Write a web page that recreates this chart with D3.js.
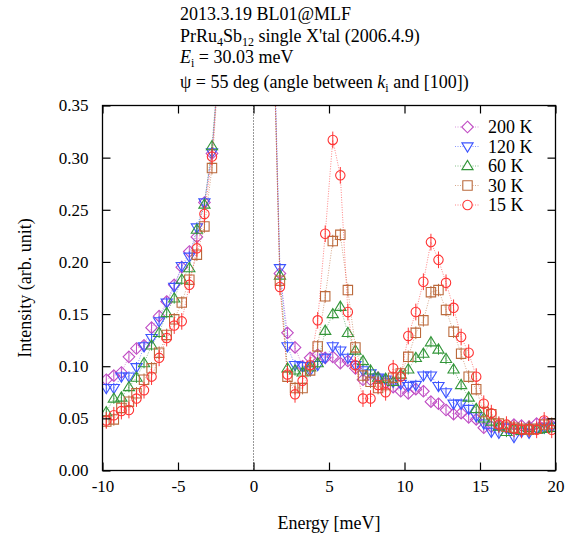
<html lang="en">
<head>
<meta charset="utf-8">
<script src="https://d3js.org/d3.v7.min.js"></script>
<style>
  body { margin: 0; background: #fff; }
  text { font-family: "Liberation Serif", "Times New Roman", serif; fill: #000; }
</style>
</head>
<body>
<svg id="chart" width="572" height="535"></svg>
<script>
// energy transfer points [meV]; the ones next to the elastic line are off the top of the plot
var energy = [-9.75, -9.25, -8.75, -8.25, -7.75, -7.25, -6.75, -6.25, -5.75, -5.25, -4.75, -4.25, -3.75, -3.25, -2.75, -2.25,
              1.25, 1.75, 2.25, 2.75, 3.25, 3.75, 4.25, 4.75, 5.25, 5.75, 6.25, 6.75, 7.25, 7.75, 8.25, 8.75, 9.25, 9.75,
              10.25, 10.75, 11.25, 11.75, 12.25, 12.75, 13.25, 13.75, 14.25, 14.75, 15.25, 15.75, 16.25, 16.75, 17.25, 17.75,
              18.25, 18.75, 19.25, 19.75];

var temps = ["200 K", "120 K", "60 K", "30 K", "15 K"];

var int200 = [0.087, 0.091, 0.094, 0.109, 0.117, 0.120, 0.137, 0.148, 0.162, 0.178, 0.195, 0.210, 0.224, 0.257, 0.304, 0.40,
              0.47, 0.189, 0.132, 0.118, 0.100, 0.108, 0.111, 0.108, 0.109, 0.103, 0.105, 0.098, 0.087, 0.087, 0.089, 0.084,
              0.080, 0.076, 0.074, 0.078, 0.076, 0.066, 0.064, 0.058, 0.054, 0.055, 0.051, 0.049, 0.041, 0.042, 0.043, 0.041,
              0.044, 0.043, 0.042, 0.045, 0.046, 0.043];
var int120 = [0.079, 0.079, 0.090, 0.090, 0.099, 0.119, 0.127, 0.143, 0.161, 0.176, 0.196, 0.205, 0.233, 0.257, 0.305, 0.40,
              0.48, 0.194, 0.119, 0.101, 0.100, 0.096, 0.101, 0.108, 0.119, 0.115, 0.108, 0.101, 0.096, 0.093, 0.089, 0.087,
              0.085, 0.083, 0.081, 0.082, 0.091, 0.091, 0.081, 0.075, 0.064, 0.064, 0.059, 0.052, 0.045, 0.037, 0.036, 0.041,
              0.032, 0.037, 0.036, 0.040, 0.041, 0.042];
var int60  = [0.056, 0.069, 0.070, 0.080, 0.089, 0.103, 0.120, 0.132, 0.151, 0.165, 0.183, 0.194, 0.231, 0.255, 0.311, 0.40,
              0.46, 0.187, 0.098, 0.096, 0.094, 0.099, 0.103, 0.134, 0.150, 0.157, 0.132, 0.115, 0.105, 0.096, 0.089, 0.088,
              0.085, 0.092, 0.097, 0.108, 0.112, 0.123, 0.116, 0.107, 0.097, 0.082, 0.070, 0.059, 0.050, 0.047, 0.042, 0.037,
              0.040, 0.038, 0.041, 0.039, 0.040, 0.041];
var int30  = [0.047, 0.049, 0.060, 0.066, 0.074, 0.087, 0.098, 0.113, 0.130, 0.145, 0.161, 0.183, 0.207, 0.234, 0.290, 0.40,
              0.46, 0.182, 0.090, 0.079, 0.079, 0.096, 0.119, 0.167, 0.220, 0.226, 0.173, 0.118, 0.091, 0.085, 0.079, 0.082,
              0.089, 0.093, 0.109, 0.132, 0.144, 0.171, 0.173, 0.154, 0.133, 0.112, 0.090, 0.078, 0.056, 0.054, 0.045, 0.042,
              0.041, 0.040, 0.039, 0.040, 0.044, 0.045];
var int15  = [0.048, 0.053, 0.057, 0.058, 0.069, 0.077, 0.090, 0.108, 0.127, 0.139, 0.143, 0.178, 0.213, 0.246, 0.301, 0.40,
              0.47, 0.176, 0.092, 0.073, 0.086, 0.101, 0.144, 0.227, 0.317, 0.283, 0.152, 0.101, 0.069, 0.069, 0.082, 0.075,
              0.098, 0.090, 0.129, 0.152, 0.181, 0.219, 0.202, 0.180, 0.156, 0.128, 0.113, 0.090, 0.064, 0.055, 0.044, 0.044,
              0.040, 0.039, 0.040, 0.039, 0.048, 0.039];

// size of the error bars (half length) for each temperature
var errors = [0.005, 0.005, 0.005, 0.006, 0.008];

var xTicks = [-10, -5, 0, 5, 10, 15, 20];
var yTicks = [0, 0.05, 0.10, 0.15, 0.20, 0.25, 0.30, 0.35];

var allSeries = [int200, int120, int60, int30, int15];
var colors = ["#c04cc4", "#3c54ff", "#33963a", "#bb6a3c", "#ff3333"];
var shapes = ["diamond", "down", "up", "square", "circle"];

// plot area (window.top is taken, so these get a prefix)
var plotLeft = 102.5, plotRight = 555.5, plotTop = 105.5, plotBottom = 470.5;
var xScale = d3.scaleLinear().domain([-10, 20]).range([plotLeft, plotRight]);
var yScale = d3.scaleLinear().domain([0, 0.35]).range([plotBottom, plotTop]);

var svg = d3.select("#chart");

// marker outlines
function markerPath(shape) {
    if (shape == "diamond") return "M0,-5.8L5.8,0L0,5.8L-5.8,0Z";
    if (shape == "down") return "M-5.6,-3.6L5.6,-3.6L0,5.6Z";
    if (shape == "up") return "M-5.6,3.6L5.6,3.6L0,-5.6Z";
    if (shape == "square") return "M-4.7,-4.7L4.7,-4.7L4.7,4.7L-4.7,4.7Z";
    return d3.arc()({innerRadius: 0, outerRadius: 4.7, startAngle: 0, endAngle: 2 * Math.PI});
}

svg.append("clipPath")
   .attr("id", "plotClip")
   .append("rect")
   .attr("x", plotLeft)
   .attr("y", plotTop)
   .attr("width", plotRight - plotLeft)
   .attr("height", plotBottom - plotTop);

// dotted line at zero energy
svg.append("line")
   .attr("x1", xScale(0)).attr("x2", xScale(0))
   .attr("y1", plotTop).attr("y2", plotBottom)
   .attr("stroke", "#333")
   .attr("stroke-width", 1)
   .attr("stroke-dasharray", "1,2");

var plot = svg.append("g").attr("clip-path", "url(#plotClip)");

// one group per temperature, highest temperature drawn first
allSeries.forEach(function(vals, s) {
    var pts = energy.map(function(e, i) { return {x: e, y: vals[i]}; });
    var g = plot.append("g");

    g.append("path")
     .datum(pts)
     .attr("fill", "none")
     .attr("stroke", colors[s])
     .attr("stroke-opacity", 0.6)
     .attr("stroke-width", 1)
     .attr("stroke-dasharray", "1,1.5")
     .attr("d", d3.line()
                  .x(function(d) { return xScale(d.x); })
                  .y(function(d) { return yScale(d.y); }));

    var visible = pts.filter(function(d) { return d.y < 0.35; });

    g.selectAll(".err")
     .data(visible)
     .enter()
     .append("line")
     .attr("x1", function(d) { return xScale(d.x); })
     .attr("x2", function(d) { return xScale(d.x); })
     .attr("y1", function(d) { return yScale(d.y - errors[s]); })
     .attr("y2", function(d) { return yScale(d.y + errors[s]); })
     .attr("stroke", colors[s])
     .attr("stroke-width", 1);

    g.selectAll(".mark")
     .data(visible)
     .enter()
     .append("path")
     .attr("transform", function(d) { return "translate(" + xScale(d.x) + "," + yScale(d.y) + ")"; })
     .attr("d", markerPath(shapes[s]))
     .attr("fill", "none")
     .attr("stroke", colors[s])
     .attr("stroke-width", 1.1);
});

// frame with inward ticks on all sides
svg.append("rect")
   .attr("x", plotLeft).attr("y", plotTop)
   .attr("width", plotRight - plotLeft).attr("height", plotBottom - plotTop)
   .attr("fill", "none")
   .attr("stroke", "#000")
   .attr("stroke-width", 1.3);

svg.append("g")
   .attr("transform", "translate(0," + plotBottom + ")")
   .call(d3.axisBottom(xScale).tickValues(xTicks).tickSize(-8).tickPadding(9)
           .tickFormat(function(d) { return String(d); }))
   .call(function(g) { g.select(".domain").remove(); });
svg.append("g")
   .attr("transform", "translate(0," + plotTop + ")")
   .call(d3.axisTop(xScale).tickValues(xTicks).tickSize(-8).tickFormat(""))
   .call(function(g) { g.select(".domain").remove(); });
svg.append("g")
   .attr("transform", "translate(" + plotLeft + ",0)")
   .call(d3.axisLeft(yScale).tickValues(yTicks).tickSize(-8).tickPadding(14).tickFormat(d3.format(".2f")))
   .call(function(g) { g.select(".domain").remove(); });
svg.append("g")
   .attr("transform", "translate(" + plotRight + ",0)")
   .call(d3.axisRight(yScale).tickValues(yTicks).tickSize(-8).tickFormat(""))
   .call(function(g) { g.select(".domain").remove(); });

svg.selectAll(".tick line").attr("stroke", "#000").attr("stroke-width", 1.2);
svg.selectAll(".tick text")
   .attr("font-family", "Liberation Serif, serif")
   .attr("font-size", "17px")
   .attr("fill", "#000");

// axis labels
svg.append("text")
   .attr("text-anchor", "middle")
   .attr("x", (plotLeft + plotRight) / 2)
   .attr("y", 529)
   .attr("font-size", "18px")
   .text("Energy [meV]");
svg.append("text")
   .attr("text-anchor", "middle")
   .attr("transform", "translate(31," + ((plotTop + plotBottom) / 2) + ") rotate(-90)")
   .attr("font-size", "18px")
   .text("Intensity (arb. unit)");

// header lines above the plot
var header = svg.append("g").attr("font-size", "18px");
header.append("text").attr("x", 180).attr("y", 20).text("2013.3.19 BL01@MLF");

var l2 = header.append("text").attr("x", 180).attr("y", 42);
l2.append("tspan").text("PrRu");
l2.append("tspan").attr("font-size", "12px").attr("dy", 4).text("4");
l2.append("tspan").attr("dy", -4).text("Sb");
l2.append("tspan").attr("font-size", "12px").attr("dy", 4).text("12");
l2.append("tspan").attr("dy", -4).text(" single X'tal (2006.4.9)");

var l3 = header.append("text").attr("x", 180).attr("y", 63);
l3.append("tspan").attr("font-style", "italic").text("E");
l3.append("tspan").attr("font-size", "12px").attr("dy", 4).text("i");
l3.append("tspan").attr("dy", -4).text(" = 30.03 meV");

var l4 = header.append("text").attr("x", 180).attr("y", 88);
l4.append("tspan").text("\u03c8 = 55 deg (angle between ");
l4.append("tspan").attr("font-style", "italic").text("k");
l4.append("tspan").attr("font-size", "12px").attr("dy", 4).text("i");
l4.append("tspan").attr("dy", -4).text(" and [100])");

// legend
var legend = svg.append("g");
temps.forEach(function(t, s) {
    var ly = 127 + s * 19.5;
    legend.append("line")
          .attr("x1", 455).attr("x2", 480)
          .attr("y1", ly).attr("y2", ly)
          .attr("stroke", colors[s])
          .attr("stroke-opacity", 0.6)
          .attr("stroke-dasharray", "1,1.5");
    legend.append("path")
          .attr("transform", "translate(467.5," + ly + ")")
          .attr("d", markerPath(shapes[s]))
          .attr("fill", "#fff")
          .attr("stroke", colors[s])
          .attr("stroke-width", 1.1);
    legend.append("text")
          .attr("x", 488)
          .attr("y", ly + 6)
          .attr("font-size", "18px")
          .text(t);
});
</script>
</body>
</html>
